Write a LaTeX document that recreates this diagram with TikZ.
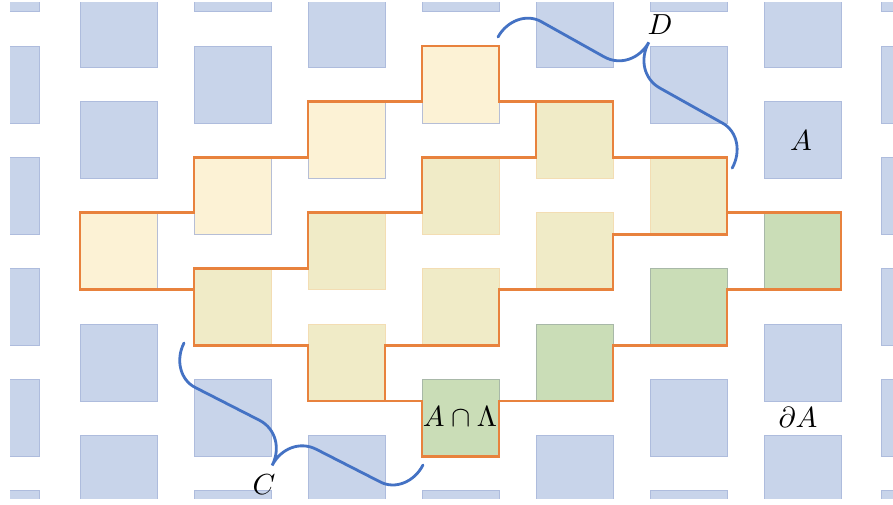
\documentclass[tikz,border=0pt]{standalone}
\usepackage{graphicx}
\definecolor{sqblue}{HTML}{C8D4EA}
\definecolor{sqblueline}{HTML}{AEBCDD}
\definecolor{ltyellow}{HTML}{FCF2D5}
\definecolor{ltyline}{HTML}{B6BED6}
\definecolor{dkyellow}{HTML}{F0EBC7}
\definecolor{dkyline}{HTML}{F3DDB3}
\definecolor{sqgreen}{HTML}{CADDB7}
\definecolor{greenline}{HTML}{A8B8A8}
\definecolor{orangeline}{HTML}{E8823D}
\definecolor{braceblue}{HTML}{4472C4}
\tikzset{
  bluesq/.style={fill=sqblue, draw=sqblueline, line width=0.8pt},
  lysq/.style={fill=ltyellow, draw=ltyline, line width=0.8pt},
  dysq/.style={fill=dkyellow, draw=dkyline, line width=0.8pt},
  gsq/.style={fill=sqgreen, draw=greenline, line width=0.8pt},
  outline/.style={draw=orangeline, line width=2.8pt, line join=miter},
  bracecurve/.style={draw=braceblue, line width=2.8pt, line cap=round},
  lbl/.style={inner sep=0pt},
}
\newcommand{\sqat}[3]{%
  \pgfmathsetmacro{\sqX}{-34+114*#1}%
  \pgfmathsetmacro{\sqY}{-9.7+55.6*#2}%
  \path[#3] (\sqX,\sqY) rectangle ++(77,77);%
}
\newcommand{\biglbl}[1]{\scalebox{2.9}{$#1$}}
\begin{document}
\begin{tikzpicture}[x=1pt,y=-1pt]
\useasboundingbox (0,0) rectangle (893,504);
\fill[white] (0,0) rectangle (893,504);
\begin{scope}
  \clip (10,2) rectangle (893,498);
  % blue squares
  \foreach \c/\k in {1/0,1/2,1/6,1/8, 2/-1,2/1,2/7,2/9, 3/0,3/8, 4/-1,4/9,
                     5/0,5/8, 6/-1,6/1,6/7,6/9, 7/0,7/2,7/6,7/8} {\sqat{\c}{\k}{bluesq}}
  \foreach \k in {-1,1,3,5,7,9} {
    \pgfmathsetmacro{\sqY}{-9.7+55.6*\k}
    \path[bluesq] (0,\sqY) rectangle (39,\sqY+77);
    \path[bluesq] (881,\sqY) rectangle (958,\sqY+77);
  }
  % light yellow
  \foreach \c/\k in {1/4,2/3,3/2,4/1} {\sqat{\c}{\k}{lysq}}
  % dark yellow
  \foreach \c/\k in {2/5,3/4,3/6,4/3,4/5,5/2,5/4,6/3} {\sqat{\c}{\k}{dysq}}
  % green
  \foreach \c/\k in {4/7,5/6,6/5,7/4} {\sqat{\c}{\k}{gsq}}
\end{scope}
% orange outlines
\path[outline] (80,212.7) -- (194,212.7) -- (194,157.1) -- (308,157.1) -- (308,101.5)
  -- (422,101.5) -- (422,45.9) -- (499,45.9) -- (499,101.5) -- (613,101.5) -- (613,157.1)
  -- (727,157.1) -- (727,212.7) -- (841,212.7) -- (841,289.7) -- (727,289.7) -- (727,345.3)
  -- (613,345.3) -- (613,400.9) -- (499,400.9) -- (499,456.5) -- (422,456.5) -- (422,400.9)
  -- (308,400.9) -- (308,345.3) -- (194,345.3) -- (194,289.7) -- (80,289.7) -- cycle;
\path[outline] (536,101.5) -- (536,157.1) -- (422,157.1) -- (422,212.7) -- (308,212.7)
  -- (308,268.3) -- (194,268.3) -- (194,289.7);
\path[outline] (385,400.9) -- (385,345.3) -- (499,345.3) -- (499,289.7) -- (613,289.7)
  -- (613,234.1) -- (727,234.1) -- (727,212.7);
% brace D
\begin{scope}[shift={(498,37)}, x={(0.8731pt,-0.4888pt)}, y={(0.4888pt,0.8731pt)}]
  \path[bracecurve] (0,0) .. controls (0,19.06) and (13.43,34.5) .. (30,34.5)
    -- (102.1,34.5) .. controls (120.67,34.5) and (134.1,49.94) .. (134.1,69)
    .. controls (134.1,49.94) and (147.53,34.5) .. (166.1,34.5)
    -- (238.2,34.5) .. controls (254.77,34.5) and (268.2,19.06) .. (268.2,0);
\end{scope}
% brace C
\begin{scope}[shift={(184,343)}, x={(0.8907pt,-0.4547pt)}, y={(-0.4547pt,-0.8907pt)}]
  \path[bracecurve] (0,0) .. controls (0,19.06) and (13.43,34.5) .. (30,34.5)
    -- (102.15,34.5) .. controls (120.72,34.5) and (134.15,49.94) .. (134.15,69)
    .. controls (134.15,49.94) and (147.58,34.5) .. (166.15,34.5)
    -- (238.3,34.5) .. controls (254.87,34.5) and (268.3,19.06) .. (268.3,0);
\end{scope}
% labels
\node[lbl] (labA) at (801,141) {\biglbl{A}};
\node[lbl] (labdA) at (798,417) {\biglbl{\partial A}};
\node[lbl] (labAL) at (460,417) {\biglbl{A\cap\Lambda}};
\node[lbl] (labC) at (264,485) {\biglbl{C}};
\node[lbl] (labD) at (660,25) {\biglbl{D}};
\end{tikzpicture}
\end{document}
